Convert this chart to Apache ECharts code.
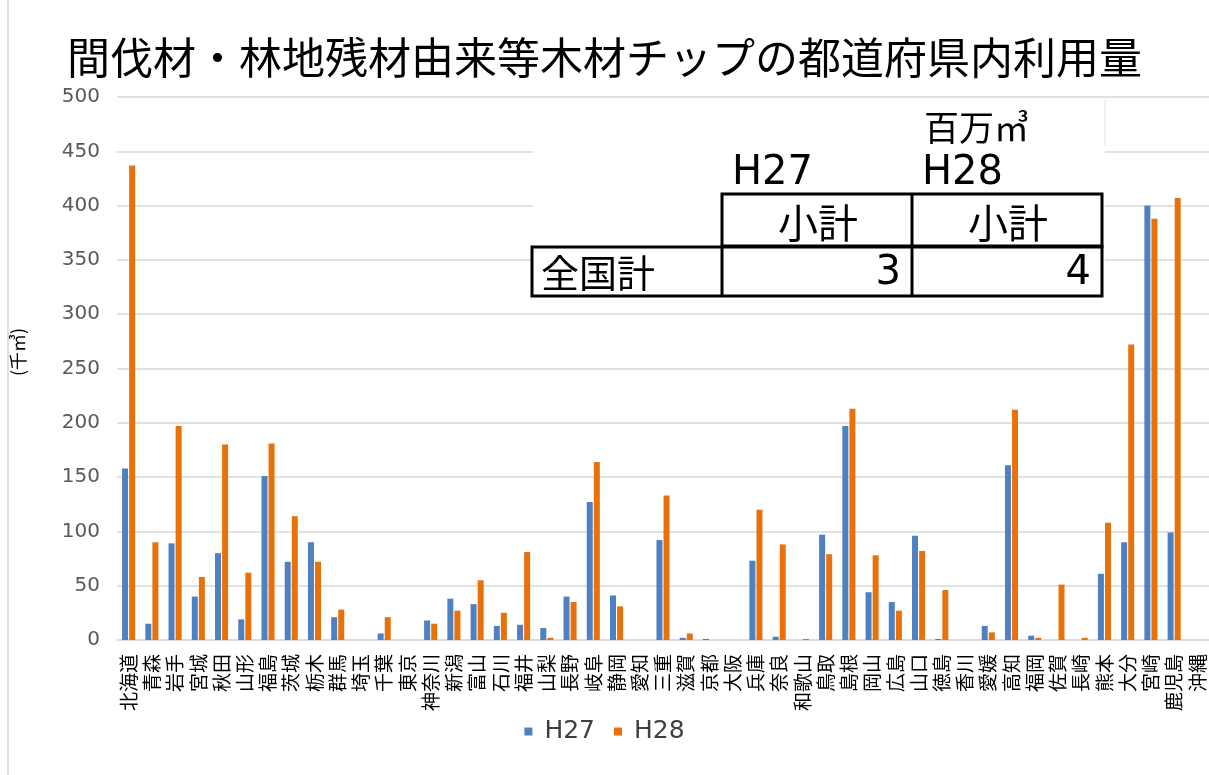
<!DOCTYPE html>
<html>
<head>
<meta charset="utf-8">
<title>間伐材・林地残材由来等木材チップの都道府県内利用量</title>
<script src="https://cdn.jsdelivr.net/npm/echarts@6/dist/echarts.min.js"></script>
<style>
  html, body { margin: 0; padding: 0; background: #fff; }
  #chart { width: 1209px; height: 775px; }
</style>
</head>
<body>
<div id="chart"></div>
<script>
// 都道府県
var prefectures = ['北海道', '青森', '岩手', '宮城', '秋田', '山形', '福島', '茨城', '栃木', '群馬',
  '埼玉', '千葉', '東京', '神奈川', '新潟', '富山', '石川', '福井', '山梨', '長野',
  '岐阜', '静岡', '愛知', '三重', '滋賀', '京都', '大阪', '兵庫', '奈良', '和歌山',
  '鳥取', '島根', '岡山', '広島', '山口', '徳島', '香川', '愛媛', '高知', '福岡',
  '佐賀', '長崎', '熊本', '大分', '宮崎', '鹿児島', '沖縄'];

// 千㎥
var h27 = [158, 15, 89, 40, 80, 19, 151, 72, 90, 21,
  0, 6, 0, 18, 38, 33, 13, 14, 11, 40,
  127, 41, 0, 92, 2, 1, 0, 73, 3, 0,
  97, 197, 44, 35, 96, 1, 0, 13, 161, 4,
  0, 0, 61, 90, 400, 99, 0];
var h28 = [437, 90, 197, 58, 180, 62, 181, 114, 72, 28,
  0, 21, 0, 15, 27, 55, 25, 81, 2, 35,
  164, 31, 0, 133, 6, 0, 0, 120, 88, 1,
  79, 213, 78, 27, 82, 46, 0, 7, 212, 2,
  51, 2, 108, 272, 388, 407, 0];

// 表（百万㎥）
var tableYears = ['H27', 'H28'];
var tableTotals = [3, 4];

var seriesNames = ['H27', 'H28'];
var colors = ['#4f81c0', '#e8710c'];

var numFont = '"DejaVu Sans", sans-serif';
var jpFont = '"Noto Sans CJK JP", sans-serif';

var chart = echarts.init(document.getElementById('chart'));

// 表の罫線とテキスト
function tableGraphics() {
  var g = [];
  // 白い下地（グリッド線を隠す）
  g.push({ type: 'rect', shape: { x: 533, y: 99, width: 572, height: 199 },
    style: { fill: '#fff' }, z: 10 });
  g.push({ type: 'line', shape: { x1: 1105, y1: 99, x2: 1105, y2: 146 },
    style: { stroke: '#e6e6e6', lineWidth: 1 }, z: 10 });
  var lw = 3;
  // 見出し行
  g.push({ type: 'rect', shape: { x: 722, y: 194, width: 380, height: 52 },
    style: { fill: 'none', stroke: '#000', lineWidth: lw }, z: 11 });
  g.push({ type: 'line', shape: { x1: 912, y1: 194, x2: 912, y2: 296 },
    style: { stroke: '#000', lineWidth: lw }, z: 11 });
  // 全国計の行
  g.push({ type: 'rect', shape: { x: 532, y: 247, width: 570, height: 49 },
    style: { fill: 'none', stroke: '#000', lineWidth: lw }, z: 11 });
  g.push({ type: 'line', shape: { x1: 722, y1: 247, x2: 722, y2: 296 },
    style: { stroke: '#000', lineWidth: lw }, z: 11 });

  g.push({ type: 'text', x: 924, y: 128, z: 12,
    style: { text: '百万㎥', font: '35px ' + jpFont, fill: '#000', verticalAlign: 'middle' } });
  tableYears.forEach(function (y, i) {
    var x0 = 722 + i * 190;
    g.push({ type: 'text', x: x0 + 10, y: 174, z: 12,
      style: { text: y, font: '40px ' + numFont, fill: '#000', verticalAlign: 'middle' } });
    g.push({ type: 'text', x: x0 + 96, y: 223, z: 12,
      style: { text: '小計', font: '40px ' + jpFont, fill: '#000', align: 'center', verticalAlign: 'middle' } });
    g.push({ type: 'text', x: x0 + 179, y: 274, z: 12,
      style: { text: String(tableTotals[i]), font: '40px ' + numFont, fill: '#000', align: 'right', verticalAlign: 'middle' } });
  });
  g.push({ type: 'text', x: 541, y: 273, z: 12,
    style: { text: '全国計', font: '38px ' + jpFont, fill: '#000', verticalAlign: 'middle' } });
  // 縦軸タイトル
  g.push({ type: 'text', x: 18, y: 352, rotation: Math.PI / 2, z: 12,
    style: { text: '(千㎥)', font: '18px ' + jpFont, fill: '#000', align: 'center', verticalAlign: 'middle' } });
  // 左端の枠線
  g.push({ type: 'line', shape: { x1: 8, y1: 0, x2: 8, y2: 775 },
    style: { stroke: '#bfbfbf', lineWidth: 1 }, z: 1 });
  return g;
}

var option = {
  animation: false,
  backgroundColor: '#fff',
  color: colors,
  title: {
    text: '間伐材・林地残材由来等木材チップの都道府県内利用量',
    left: 'center',
    top: 31,
    textStyle: { fontFamily: jpFont, fontSize: 43, fontWeight: 'normal', color: '#000' }
  },
  legend: {
    bottom: 26,
    left: 'center',
    icon: 'rect',
    itemWidth: 8,
    itemHeight: 8,
    itemGap: 19,
    textStyle: { fontFamily: numFont, fontSize: 25, color: '#404040', padding: [0, 0, 0, 7] },
    data: seriesNames
  },
  grid: { left: 117, top: 97, width: 1094, bottom: 135, containLabel: false },
  xAxis: {
    type: 'category',
    data: prefectures,
    axisLine: { lineStyle: { color: '#d9d9d9', width: 1.5 } },
    axisTick: { show: false },
    axisLabel: {
      rotate: 90,
      interval: 0,
      margin: 14,
      fontFamily: jpFont,
      fontSize: 19,
      color: '#000'
    }
  },
  yAxis: {
    type: 'value',
    min: 0,
    max: 500,
    interval: 50,
    axisLine: { show: false },
    axisTick: { show: false },
    axisLabel: { fontFamily: numFont, fontSize: 20, color: '#595959', margin: 17 },
    splitLine: { lineStyle: { color: '#d9d9d9', width: 1.5 } }
  },
  series: [
    { name: seriesNames[0], type: 'bar', data: h27, barWidth: 6, barGap: '18%' },
    { name: seriesNames[1], type: 'bar', data: h28, barWidth: 6, barGap: '18%' }
  ],
  graphic: tableGraphics()
};

chart.setOption(option);
</script>
</body>
</html>
